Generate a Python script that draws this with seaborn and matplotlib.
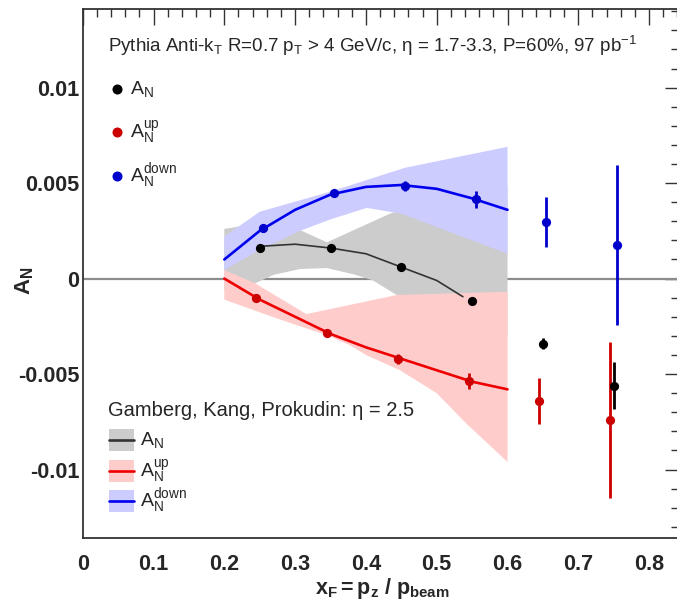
import matplotlib
matplotlib.use("Agg")
import matplotlib.pyplot as plt
import seaborn as sns
import pandas as pd
from matplotlib.ticker import MultipleLocator, FuncFormatter
from matplotlib.patches import Rectangle
from matplotlib.lines import Line2D

# ---- Pythia pseudo-data points (x_F, A_N, stat. error) ----
xf_an = [0.25, 0.35, 0.45, 0.55, 0.65, 0.75]
an = [0.0016, 0.0016, 0.0006, -0.0012, -0.0034, -0.0056]
an_err = [0.0001, 0.0001, 0.00012, 0.00015, 0.0003, 0.00125]

xf_up = [0.245, 0.345, 0.445, 0.545, 0.645, 0.745]
an_up = [-0.00104, -0.00287, -0.00421, -0.00537, -0.0064, -0.0074]
an_up_err = [0.0001, 0.00012, 0.00025, 0.0004, 0.0012, 0.0041]

xf_down = [0.255, 0.355, 0.455, 0.555, 0.655, 0.755]
an_down = [0.00263, 0.00446, 0.00484, 0.00415, 0.00297, 0.00177]
an_down_err = [0.0001, 0.0001, 0.00025, 0.00043, 0.0013, 0.0042]

# ---- Gamberg, Kang, Prokudin predictions (eta = 2.5) ----
th_x = [0.20, 0.25, 0.30, 0.35, 0.40, 0.45, 0.50, 0.55, 0.60]
th_down = [0.0010, 0.0025, 0.0036, 0.0044, 0.0048, 0.0049, 0.0047, 0.0042, 0.0036]
th_up = [0.0000, -0.0011, -0.0020, -0.0029, -0.0036, -0.0042, -0.0048, -0.0054, -0.0058]
th_an_x = [0.255, 0.30, 0.35, 0.40, 0.45, 0.50, 0.537]
th_an = [0.0017, 0.0018, 0.0016, 0.0013, 0.0006, -0.0001, -0.00095]

# uncertainty bands: upper and lower edges
band_an_hi_x = [0.2, 0.25, 0.307, 0.345, 0.434, 0.5, 0.6]
band_an_hi = [0.0026, 0.0029, 0.00254, 0.0019, 0.0034, 0.0042, 0.0048]
band_an_lo_x = [0.2, 0.2435, 0.27, 0.307, 0.345, 0.385, 0.41, 0.4435, 0.5, 0.6]
band_an_lo = [-0.0006, -0.00025, 0.0002, 0.0005, 0.00055, 0.0002, -0.0001, -0.00086, -0.0017, -0.0030]

band_up_hi_x = [0.2, 0.2435, 0.316, 0.4435, 0.6]
band_up_hi = [0.00045, -0.00025, -0.00186, -0.00086, -0.00069]
band_up_lo_x = [0.2, 0.26, 0.307, 0.345, 0.378, 0.4, 0.448, 0.5, 0.542, 0.6]
band_up_lo = [-0.0011, -0.0019, -0.0025, -0.00296, -0.0035, -0.0040, -0.0048, -0.0060, -0.0076, -0.0096]

band_down_hi_x = [0.2, 0.25, 0.307, 0.354, 0.455, 0.6]
band_down_hi = [0.0022, 0.0035, 0.0041, 0.0046, 0.0058, 0.0069]
band_down_lo_x = [0.2, 0.25, 0.307, 0.35, 0.401, 0.45, 0.5, 0.55, 0.6]
band_down_lo = [0.00045, 0.0015, 0.0025, 0.0031, 0.0037, 0.0034, 0.0027, 0.0020, 0.0013]

x_ticks_step, y_ticks_step = 0.1, 0.005

sns.set_style("white")
plt.rcParams.update({
    "font.family": ["Liberation Sans", "DejaVu Sans"],
    "mathtext.fontset": "custom",
    "mathtext.rm": "Liberation Sans",
    "mathtext.it": "Liberation Sans:italic",
    "mathtext.bf": "Liberation Sans:bold",
})

W, H = 677, 602
fig = plt.figure(figsize=(W / 100, H / 100), dpi=100)
ax = fig.add_axes([82.7 / W, 1 - 538.3 / H, (681 - 82.7) / W, (538.3 - 9.3) / H])
ax.set_xlim(0, 0.845)
ax.set_ylim(-0.0136, 0.0141)

GRAY_BAND, RED_BAND, BLUE_BAND = "#cccccc", "#ffcccc", "#ccccff"


def band(xs_hi, ys_hi, xs_lo, ys_lo, color, z):
    px = list(xs_hi) + list(xs_lo)[::-1]
    py = list(ys_hi) + list(ys_lo)[::-1]
    ax.fill(px, py, color=color, lw=0, zorder=z)


# zero reference line
ax.axhline(0, color="#8c8c8c", lw=1.6, zorder=1)

band(band_an_hi_x, band_an_hi, band_an_lo_x, band_an_lo, GRAY_BAND, 2)
band(band_up_hi_x, band_up_hi, band_up_lo_x, band_up_lo, RED_BAND, 3)
band(band_down_hi_x, band_down_hi, band_down_lo_x, band_down_lo, BLUE_BAND, 4)

theory = pd.DataFrame({"x": th_x, "up": th_up, "down": th_down})
sns.lineplot(data=theory, x="x", y="down", ax=ax, color="#0000ee", lw=1.9,
             estimator=None, sort=False, zorder=5)
sns.lineplot(data=theory, x="x", y="up", ax=ax, color="#ee0000", lw=1.9,
             estimator=None, sort=False, zorder=5)
sns.lineplot(x=th_an_x, y=th_an, ax=ax, color="#333333", lw=1.2,
             estimator=None, sort=False, zorder=5)

PT_BLACK, PT_RED, PT_BLUE = "#000000", "#cc0000", "#0000cc"
for xs, ys, es, c in [(xf_an, an, an_err, PT_BLACK),
                      (xf_up, an_up, an_up_err, PT_RED),
                      (xf_down, an_down, an_down_err, PT_BLUE)]:
    ax.errorbar(xs, ys, yerr=es, fmt="none", ecolor=c, elinewidth=2.0,
                capsize=0, zorder=6)
    sns.scatterplot(x=xs, y=ys, ax=ax, color=c, s=44, edgecolor=c,
                    linewidth=0, zorder=7)

# axes styling (inward ticks on all four sides)
ax.xaxis.set_major_locator(MultipleLocator(x_ticks_step))
ax.xaxis.set_minor_locator(MultipleLocator(0.02))
ax.yaxis.set_major_locator(MultipleLocator(y_ticks_step))
ax.yaxis.set_minor_locator(MultipleLocator(0.001))
fmt = FuncFormatter(lambda v, p: "0" if abs(v) < 1e-12 else f"{v:g}")
ax.xaxis.set_major_formatter(fmt)
ax.yaxis.set_major_formatter(fmt)
ax.tick_params(which="both", direction="in", top=True, right=True,
               color="#333333", width=1.0)
ax.tick_params(which="major", length=11.5, labelsize=15.6)
ax.tick_params(axis="x", which="minor", length=5.5)
ax.tick_params(axis="y", which="minor", length=7)
ax.tick_params(axis="x", pad=11)
ax.tick_params(axis="y", pad=2.5)
for lab in ax.get_xticklabels() + ax.get_yticklabels():
    lab.set_fontweight("bold")
for s in ax.spines.values():
    s.set_color("#333333")
    s.set_linewidth(1.3)
ax.set_xlabel("")
ax.set_ylabel("")


def fx(px):
    return px / W


def fy(py):
    return 1 - py / H


fig.text(fx(25), fy(281), r"$\mathbf{A_N}$", rotation=90, fontsize=16,
         ha="center", va="center")
fig.text(fx(382), fy(594), r"$\mathbf{x_F = p_z\ /\ p_{beam}}$", fontsize=15.5,
         ha="center", va="baseline")

fig.text(fx(108), fy(46),
         r"Pythia Anti-k$_\mathregular{T}$ R=0.7 p$_\mathregular{T}$ > 4 GeV/c, "
         r"η = 1.7-3.3, P=60%, 97 pb$^\mathregular{-1}$",
         fontsize=13.5, ha="left", va="center")

# data legend
for py, c, lab in [(89.3, PT_BLACK, r"$\mathregular{A_N}$"),
                   (132, PT_RED, r"$\mathregular{A_N^{up}}$"),
                   (175.7, PT_BLUE, r"$\mathregular{A_N^{down}}$")]:
    fig.add_artist(Line2D([fx(116.6)], [fy(py)], marker="o", ms=6.2,
                          color=c, lw=0, transform=fig.transFigure))
    fig.text(fx(129.5), fy(py), lab, fontsize=14, ha="left", va="center")

# theory legend
fig.text(fx(108), fy(410), "Gamberg, Kang, Prokudin: η = 2.5", fontsize=14.5,
         ha="left", va="center")
for py, bc, lc, lab in [(440, GRAY_BAND, "#333333", r"$\mathregular{A_N}$"),
                        (471, RED_BAND, "#ee0000", r"$\mathregular{A_N^{up}}$"),
                        (501, BLUE_BAND, "#0000ee", r"$\mathregular{A_N^{down}}$")]:
    fig.add_artist(Rectangle((fx(109.3), fy(py + 11)), 25 / W, 22 / H,
                             color=bc, lw=0, transform=fig.transFigure))
    fig.add_artist(Line2D([fx(109.3), fx(134.3)], [fy(py), fy(py)], color=lc,
                          lw=1.9, transform=fig.transFigure))
    fig.text(fx(140), fy(py), lab, fontsize=14, ha="left", va="center")

fig.savefig("out.png", dpi=100)
